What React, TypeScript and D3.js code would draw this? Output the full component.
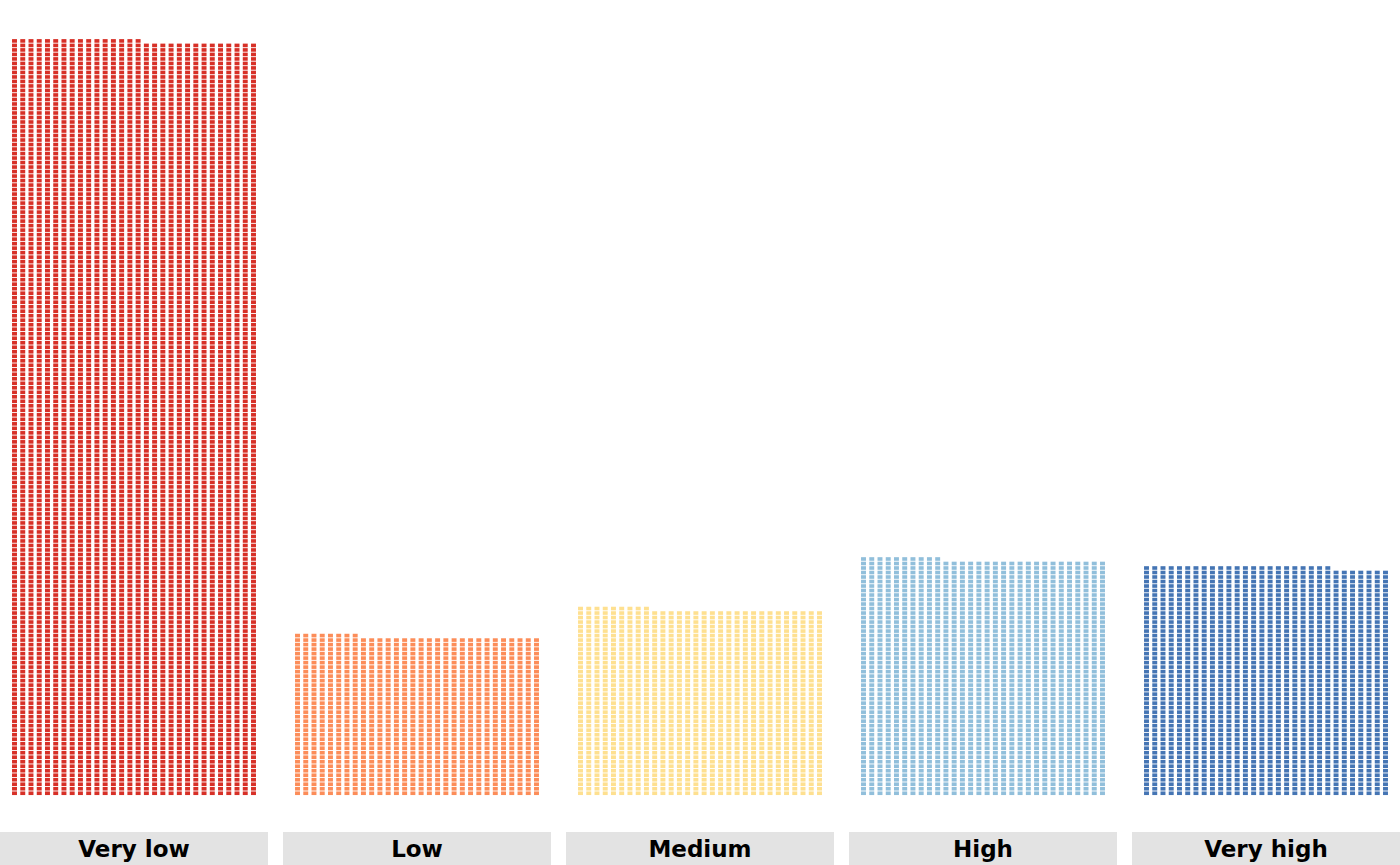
import React, { useEffect, useRef } from 'react';
import * as d3 from 'd3';

// waffle counts per category (filled bottom-up, left to right, 30 per row)
const categories = ['Very low', 'Low', 'Medium', 'High', 'Very high'];
const counts = [5026, 1058, 1239, 1570, 1523];
const colors = ['#d73027', '#fc8d59', '#fee090', '#91bfdb', '#4575b4'];
const perRow = 30;

const App = () => {
  const ref = useRef<SVGSVGElement>(null);

  useEffect(() => {
    const width = 1400;
    const height = 865;
    const svg = d3.select(ref.current);
    svg.selectAll('*').remove();

    const panel = d3.scaleBand<string>()
      .domain(categories)
      .range([0, width])
      .paddingInner(15 / 283)
      .paddingOuter(0);

    const maxRows = d3.max(counts, d => Math.ceil(d / perRow)) as number;

    const xIn = d3.scaleLinear()
      .domain([-1.26, perRow + 1.26])
      .range([0, panel.bandwidth()]);

    const y = d3.scaleLinear()
      .domain([0, maxRows])
      .range([795.5, 795.5 - maxRows * 4.505]);

    const colW = xIn(1) - xIn(0);
    const tileW = colW * 0.6;
    const rowH = y(0) - y(1);
    const tileH = rowH * 0.8;

    categories.forEach((cat, i) => {
      const cells = d3.range(counts[i]).map(k => ({ col: k % perRow, row: Math.floor(k / perRow) }));
      const g = svg.append('g').attr('transform', `translate(${panel(cat)},0)`);
      g.selectAll('rect')
        .data(cells)
        .enter()
        .append('rect')
        .attr('x', d => xIn(d.col + 0.5) - tileW / 2)
        .attr('y', d => y(d.row + 1) + (rowH - tileH) / 2)
        .attr('width', tileW)
        .attr('height', tileH)
        .attr('fill', colors[i]);

      // strip
      g.append('rect')
        .attr('x', 0)
        .attr('y', 832)
        .attr('width', panel.bandwidth())
        .attr('height', height - 832)
        .attr('fill', '#e3e3e3');
      g.append('text')
        .attr('x', panel.bandwidth() / 2)
        .attr('y', 857)
        .attr('text-anchor', 'middle')
        .attr('font-family', 'DejaVu Sans')
        .attr('font-weight', 'bold')
        .attr('font-size', 23)
        .attr('fill', '#000')
        .text(cat);
    });
  }, []);

  return (
    <svg ref={ref} width={1400} height={865}
      style={{ position: 'absolute', left: 0, top: 0, background: '#fff' }} />
  );
};

export default App;
